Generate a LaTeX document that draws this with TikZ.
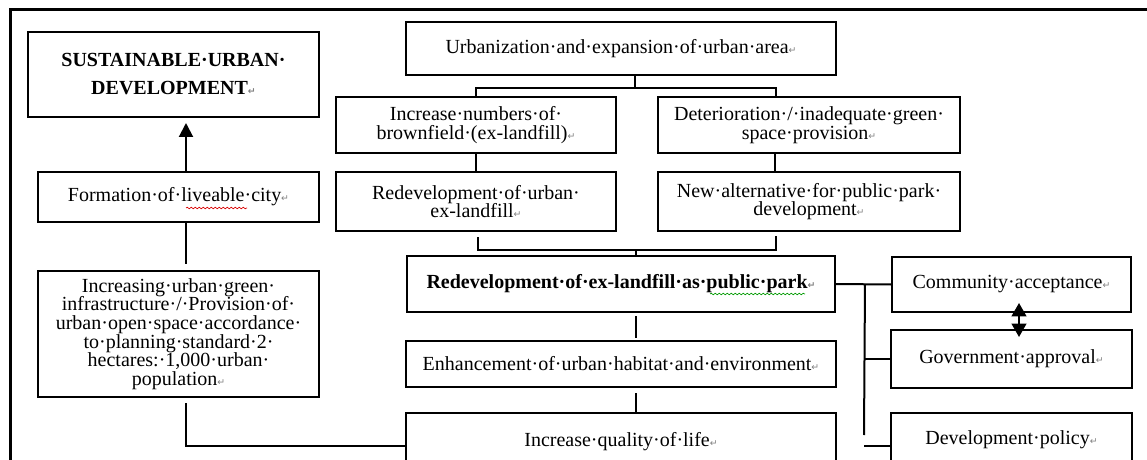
\documentclass[tikz,border=0pt]{standalone}
\usepackage{fontspec}
\setmainfont{Liberation Serif}
\newfontfamily\markfont{DejaVu Sans}
\usetikzlibrary{arrows.meta,decorations.pathmorphing}

% Absatzmarke wie in Word
\newcommand\retmark{{\markfont\fontsize{7}{7}\selectfont\textcolor{gray}{↵}}}
\newcommand\px{0.75pt}

\tikzset{
  box/.style={draw, line width=1.5pt, align=center, inner sep=2pt,
    font=\fontsize{15}{14}\selectfont},
  link/.style={line width=1.5pt},
  wave/.style={line width=0.5pt, decorate, decoration={snake, amplitude=0.6pt, segment length=3pt}},
}

\begin{document}
\begin{tikzpicture}[x=0.75pt, y=-0.75pt]
  \useasboundingbox (0,0) rectangle (1147,460);
  \clip (0,0) rectangle (1147,460);

  % Rahmen
  \draw[line width=2.25pt] (1150,10) -- (10,10) -- (10,470);

  % linke Spalte
  \node[box, minimum width=291*\px, minimum height=85*\px, font=\fontsize{15}{21}\selectfont\bfseries] (sud) at (173.5,74.5)
    {SUSTAINABLE·URBAN·\\DEVELOPMENT\retmark};
  \node[box, minimum width=281*\px, minimum height=50*\px] (live) at (178.5,197) {Formation·of·liveable·city\retmark};
  \node[box, minimum width=281*\px, minimum height=126*\px] (green) at (178.5,334)
    {Increasing·urban·green·\\infrastructure·/·Provision·of·\\urban·open·space·accordance·\\to·planning·standard·2·\\hectares:·1,000·urban·\\population\retmark};

  % mittlere Spalten
  \node[box, minimum width=430*\px, minimum height=53*\px] (urban) at (621,48.5) {Urbanization·and·expansion·of·urban·area\retmark};
  \node[box, minimum width=280*\px, minimum height=56*\px] (brown) at (476,125) {Increase·numbers·of·\\brownfield·(ex-landfill)\retmark};
  \node[box, minimum width=302*\px, minimum height=56*\px] (deter) at (809,125) {Deterioration·/·inadequate·green·\\space·provision\retmark};
  \node[box, minimum width=280*\px, minimum height=59*\px] (redev) at (476,201.5) {Redevelopment·of·urban·\\ex-landfill\retmark};
  \node[box, minimum width=302*\px, minimum height=59*\px] (newalt) at (809,201.5) {New·alternative·for·public·park·\\development\retmark};
  \node[box, minimum width=428*\px, minimum height=56*\px, font=\fontsize{15}{14}\selectfont\bfseries] (park) at (621,284)
    {Redevelopment·of·ex-landfill·as·public·park\retmark};
  \node[box, minimum width=430*\px, minimum height=46*\px] (habitat) at (621,364) {Enhancement·of·urban·habitat·and·environment\retmark};
  \node[box, minimum width=430*\px, minimum height=58*\px] (quality) at (621,442) {Increase·quality·of·life\retmark};

  % rechte Spalte
  \node[box, minimum width=239*\px, minimum height=55*\px] (comm) at (1011.5,284.5) {Community·acceptance\retmark};
  \node[box, minimum width=241*\px, minimum height=58*\px] (gov) at (1011.5,359) {Government·approval\retmark};
  \node[box, minimum width=241*\px, minimum height=54*\px] (policy) at (1011.5,440) {Development·policy\retmark};

  % Rechtschreibmarken
  \draw[wave, red!85!black] (186,208) -- (247,208);
  \draw[wave, green!60!black] (710,294) -- (805,294);

  % Verbindungen oben
  \coordinate (top split) at (635,88);
  \coordinate (mid split) at (636,250);
  \draw[link] (urban.south -| top split) -- (top split);
  \draw[link] (brown.north) |- (top split) -| ([shift={(-33,0)}]deter.north);
  \draw[link] (brown.south) -- (redev.north);
  \draw[link] ([shift={(-34,0)}]deter.south) -- ([shift={(-34,0)}]newalt.north);
  \draw[link] ([shift={(2,5)}]redev.south) |- (mid split) -| ([shift={(-33,4)}]newalt.south);
  \draw[link] (mid split) -- (park.north -| mid split);

  % Verbindungen Mitte
  \draw[link] ([shift={(15,3)}]park.south) -- ([shift={(15,-2)}]habitat.north);
  \draw[link] ([shift={(15,5)}]habitat.south) -- ([shift={(15,0)}]quality.north);

  % Verbindungen rechts
  \coordinate (right bus) at (865,284);
  \draw[link] (park.east) -- (comm.west);
  \draw[link] (right bus) -- ([shift={(-26,-5)}]policy.west);
  \draw[link] (right bus |- gov.west) -- (gov.west);
  \draw[link] ([shift={(-26,6)}]policy.west) -- ([shift={(0,6)}]policy.west);
  \draw[line width=1.5pt, {Triangle[width=11pt,length=10pt]}-{Triangle[width=11pt,length=10pt]}]
    ([shift={(7.5,-10)}]comm.south) -- ([shift={(7.5,8)}]gov.north);

  % Verbindungen links
  \draw[link, -{Triangle[width=10.5pt,length=10.5pt]}] ([shift={(7.5,0)}]live.north) -- ([shift={(12.5,5)}]sud.south);
  \draw[link] ([shift={(7.5,0)}]live.south) -- ([shift={(7.5,-6)}]green.north);
  \draw[link] ([shift={(7.5,5)}]green.south) |- ([shift={(0,4)}]quality.west);
\end{tikzpicture}
\end{document}
